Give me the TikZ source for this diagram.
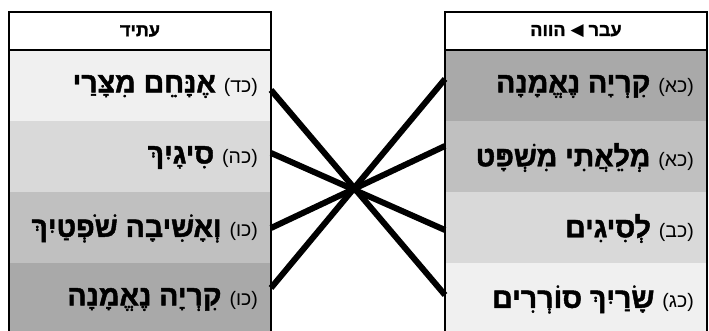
\documentclass[tikz,border=0pt]{standalone}
\usepackage{fontspec}
\setmainfont{Liberation Sans}
\newfontfamily\hebfont[Script=Hebrew,BoldFeatures={FakeBold=1.6}]{Liberation Sans}
\newfontfamily\symfont{DejaVu Sans}
\TeXXeTstate=1
\definecolor{cA}{HTML}{F0F0F0}
\definecolor{cB}{HTML}{D9D9D9}
\definecolor{cC}{HTML}{C0C0C0}
\definecolor{cD}{HTML}{A9A9A9}
\newcommand{\lbl}[1]{{\mdseries\fontsize{19.5}{21}\selectfont #1}}
\begin{document}
\begin{tikzpicture}[x=1pt,y=-1pt,
  rowbox/.style={draw=none,minimum width=262pt,minimum height=71pt,inner sep=0pt,outer sep=0pt},
  headbox/.style={draw=none,fill=white,minimum width=262pt,minimum height=38pt,inner sep=0pt,outer sep=0pt,
    font=\hebfont\bfseries\fontsize{18}{20}\selectfont},
  rowtext/.style={anchor=east,inner sep=0pt,font=\hebfont\bfseries\fontsize{28.5}{31}\selectfont},
  link/.style={line width=6pt,black},
  frame/.style={line width=2.5pt,black},
  sep/.style={line width=2pt,black}]
\useasboundingbox (0,0) rectangle (709,331);
\clip (0,0) rectangle (709,331);
% left box
\node[headbox] (LH) at (140,31) {\beginR עתיד\endR};
\node[rowbox,fill=cA] (L1) at (140,85.5) {};
\node[rowbox,fill=cB] (L2) at (140,156.5) {};
\node[rowbox,fill=cC] (L3) at (140,227.5) {};
\node[rowbox,fill=cD] (L4) at (140,298.5) {};
% right box
\node[headbox] (RH) at (576,31) {\beginR עבר\ \raisebox{0.5pt}{\symfont\mdseries\fontsize{17}{18}\selectfont ◀}\ הווה\endR};
\node[rowbox,fill=cD] (R1) at (576,85.5) {};
\node[rowbox,fill=cC] (R2) at (576,156.5) {};
\node[rowbox,fill=cB] (R3) at (576,227.5) {};
\node[rowbox,fill=cA] (R4) at (576,298.5) {};
% texts
\node[rowtext] (L1t) at ([xshift=-13pt,yshift=-1pt]L1.east) {\beginR\lbl{(כד)} אֶנָּחֵם מִצָּרַי\endR};
\node[rowtext] (L2t) at ([xshift=-13pt,yshift=-1pt]L2.east) {\beginR\lbl{(כה)} סִיגָיִךְ\endR};
\node[rowtext] (L3t) at ([xshift=-13pt,yshift=-1pt]L3.east) {\beginR\lbl{(כו)} וְאָשִׁיבָה שֹׁפְטַיִךְ\endR};
\node[rowtext] (L4t) at ([xshift=-13pt,yshift=-1pt]L4.east) {\beginR\lbl{(כו)} קִרְיָה נֶאֱמָנָה\endR};
\node[rowtext] (R1t) at ([xshift=-13pt,yshift=-1pt]R1.east) {\beginR\lbl{(כא)} קִרְיָה נֶאֱמָנָה\endR};
\node[rowtext] (R2t) at ([xshift=-13pt,yshift=-1pt]R2.east) {\beginR\lbl{(כא)} מְלֵאֲתִי מִשְׁפָּט\endR};
\node[rowtext] (R3t) at ([xshift=-13pt,yshift=-1pt]R3.east) {\beginR\lbl{(כב)} לְסִיגִים\endR};
\node[rowtext] (R4t) at ([xshift=-13pt,yshift=-1pt]R4.east) {\beginR\lbl{(כג)} שָׂרַיִךְ סוֹרְרִים\endR};
% links
\draw[link] ([yshift=-4.5pt]L1.east) -- ([yshift=3.5pt]R4.west);
\draw[link] ([yshift=3.5pt]L2.east) -- ([yshift=-2.5pt]R3.west);
\draw[link] ([yshift=-0.5pt]L3.east) -- ([yshift=10.5pt]R2.west);
\draw[link] ([yshift=10.5pt]L4.east) -- ([yshift=6.5pt]R1.west);
% frames
\draw[frame] (LH.north west) rectangle (L4.south east);
\draw[sep] (LH.south west) -- (LH.south east);
\draw[frame] (RH.north west) rectangle (R4.south east);
\draw[sep] (RH.south west) -- (RH.south east);
\end{tikzpicture}
\end{document}
